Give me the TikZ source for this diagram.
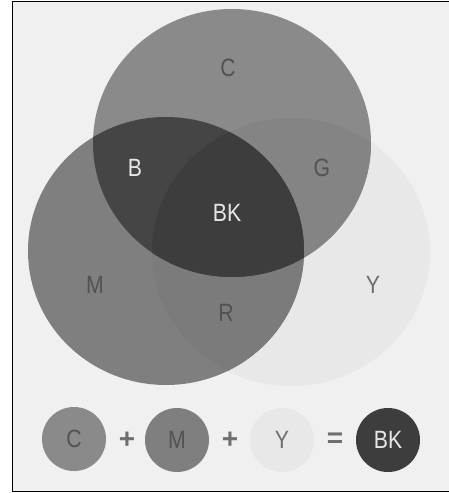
\documentclass[tikz,border=0pt]{standalone}
\usepackage{fontspec}
\setmainfont{Liberation Sans}
\definecolor{paper}{HTML}{F0F0F0}
\definecolor{cyanfill}{HTML}{8A8A8A}
\definecolor{magfill}{HTML}{7F7F7F}
\definecolor{yelfill}{HTML}{E8E8E8}
\definecolor{greenfill}{HTML}{848484}
\definecolor{redfill}{HTML}{7B7B7B}
\definecolor{bluefill}{HTML}{454545}
\definecolor{blackfill}{HTML}{3D3D3D}
\definecolor{darkink}{HTML}{525252}
\definecolor{softink}{HTML}{6E6E6E}
\definecolor{lightink}{HTML}{E6E6E6}
\begin{document}
\begin{tikzpicture}[x=1pt,y=-1pt,
  lbl/.style={font=\fontsize{25}{25}\selectfont, inner sep=0pt, xscale=0.85, text=darkink},
  lightlbl/.style={lbl, text=lightink},
  op/.style={font=\bfseries\fontsize{28}{28}\selectfont, inner sep=0pt, text=softink},
  swatch/.style={circle, minimum size=64pt, inner sep=0pt}
]
\useasboundingbox (0,0) rectangle (448,493);
% page and frame
\fill[white] (0,0) rectangle (448,493);
\fill[paper] (12.5,1.5) rectangle (452,491.5);
% the three ink discs
\coordinate (cC) at (232,143);
\coordinate (cM) at (166,251);
\coordinate (cY) at (291,252);
\def\inkC{(cC) ellipse [x radius=139, y radius=134]}
\def\inkM{(cM) ellipse [x radius=138, y radius=134]}
\def\inkY{(cY) ellipse [x radius=139, y radius=134]}
\fill[yelfill] \inkY;
\fill[cyanfill] \inkC;
\fill[magfill] \inkM;
% two-ink overlaps
\begin{scope}
  \clip \inkC;
  \fill[greenfill] \inkY;
\end{scope}
\begin{scope}
  \clip \inkM;
  \fill[redfill] \inkY;
\end{scope}
\begin{scope}
  \clip \inkC;
  \fill[bluefill] \inkM;
\end{scope}
% three-ink overlap
\begin{scope}
  \clip \inkC;
  \clip \inkM;
  \fill[blackfill] \inkY;
\end{scope}
% region labels
\node[lbl] (lC) at (228,68) {C};
\node[lightlbl] (lB) at (135,168) {B};
\node[lbl] (lG) at (322,168) {G};
\node[lightlbl] (lBK) at (227,213) {BK};
\node[lbl] (lM) at (95,285) {M};
\node[lbl, text=softink] (lY) at (373,285) {Y};
\node[lbl] (lR) at (226,313) {R};
% mixing equation
\node[swatch, fill=cyanfill] (sC) at (74,439) {};
\node[lbl] (tC) at (sC) {C};
\node[op] (p1) at (127,440) {+};
\node[swatch, fill=magfill] (sM) at (177,440) {};
\node[lbl] (tM) at (sM) {M};
\node[op] (p2) at (230,440) {+};
\node[swatch, fill=yelfill] (sY) at (282,440) {};
\node[lbl, text=softink] (tY) at (sY) {Y};
\node[op] (eq) at (335,440) {=};
\node[swatch, fill=blackfill] (sBK) at (388,440) {};
\node[lightlbl] (tBK) at (sBK) {BK};
% frame
\draw[black, line width=1.6pt] (452,1.5) -- (12.5,1.5) -- (12.5,491.5) -- (452,491.5);
\end{tikzpicture}
\end{document}
